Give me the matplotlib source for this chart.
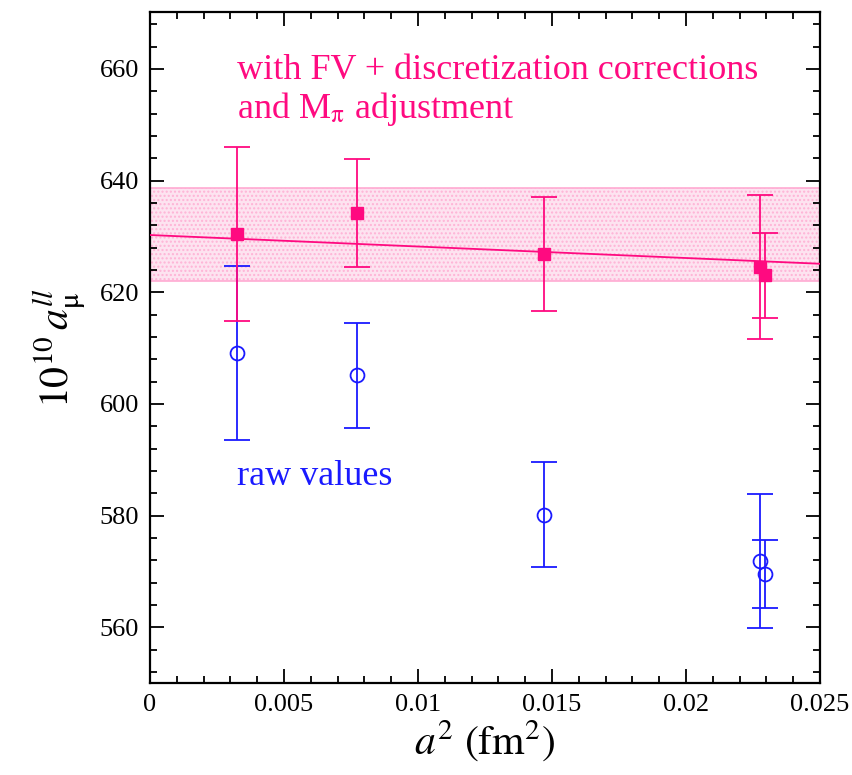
import matplotlib
matplotlib.use("Agg")
import matplotlib.pyplot as plt
from matplotlib.ticker import MultipleLocator

# ---- data ----
a2_corr = [0.00323, 0.00772, 0.01469, 0.02277, 0.02295]
val_corr = [630.4, 634.2, 626.8, 624.6, 623.0]
err_corr = [15.6, 9.6, 10.2, 12.9, 7.6]

a2_raw = [0.00323, 0.00772, 0.01469, 0.02277, 0.02295]
val_raw = [609.1, 605.1, 580.1, 571.9, 569.6]
err_raw = [15.6, 9.4, 9.4, 12.0, 6.1]

fit_x = [0.0, 0.025]
fit_y = [630.25, 625.1]
band_lo, band_hi = 622.0, 638.6

x_ticks = [0, 0.005, 0.01, 0.015, 0.02, 0.025]
x_ticklabels = ['0', '0.005', '0.01', '0.015', '0.02', '0.025']

pink = '#ff0a80'
blue = '#1a1aff'

plt.rcParams['font.family'] = ['Liberation Serif', 'DejaVu Serif']
plt.rcParams['mathtext.fontset'] = 'stix'

fig = plt.figure(figsize=(8.52, 7.75), dpi=100)
ax = fig.add_axes([150/852, 1-683/775, 670/852, 671/775])

ax.fill_between(fit_x, [band_lo]*2, [band_hi]*2, facecolor='#fde3f0', edgecolor='none', zorder=1)
ax.fill_between(fit_x, [band_lo]*2, [band_hi]*2, facecolor='none', edgecolor='#ffb3d6',
                hatch='....', linewidth=0, zorder=1)
ax.plot(fit_x, [band_lo]*2, color='#ffaad2', lw=1.2, zorder=2)
ax.plot(fit_x, [band_hi]*2, color='#ffaad2', lw=1.2, zorder=2)
ax.plot(fit_x, fit_y, color=pink, lw=1.3, zorder=3)

ax.errorbar(a2_raw, val_raw, yerr=err_raw, fmt='o', color=blue, mfc='none', mec=blue,
            ms=10, mew=1.3, elinewidth=1.3, capsize=9.5, capthick=1.3, zorder=4)
ax.errorbar(a2_corr, val_corr, yerr=err_corr, fmt='s', color=pink, mfc=pink, mec=pink,
            ms=9, elinewidth=1.3, capsize=9.5, capthick=1.3, zorder=5)

ax.set_xlim(0, 0.025)
ax.set_ylim(550, 670.2)
ax.xaxis.set_minor_locator(MultipleLocator(0.001))
ax.yaxis.set_major_locator(MultipleLocator(20))
ax.yaxis.set_minor_locator(MultipleLocator(4))
ax.set_xticks(x_ticks)
ax.set_xticklabels(x_ticklabels)
ax.tick_params(which='both', direction='in', top=True, right=True, labelsize=19, width=1.3)
ax.tick_params(which='major', length=10, pad=8)
ax.tick_params(which='minor', length=5)
for s in ax.spines.values():
    s.set_linewidth(1.6)

ax.set_xlabel(r'$a^{2}\ (\mathrm{fm}^{2})$', fontsize=30, labelpad=2)
ax.set_ylabel(r'$10^{10}\,a_{\mathrm{μ}}^{ll}$', fontsize=30, labelpad=8)

ax.text(0.00324, 658.2, 'with FV + discretization corrections', color=pink, fontsize=26,
        ha='left', va='baseline')
ax.text(0.00324, 651.2, r'and M$_{\mathrm{π}}$ adjustment', color=pink, fontsize=26,
        ha='left', va='baseline')
ax.text(0.00323, 585.5, 'raw values', color=blue, fontsize=26, ha='left', va='baseline')

fig.savefig('out.png', dpi=100)
